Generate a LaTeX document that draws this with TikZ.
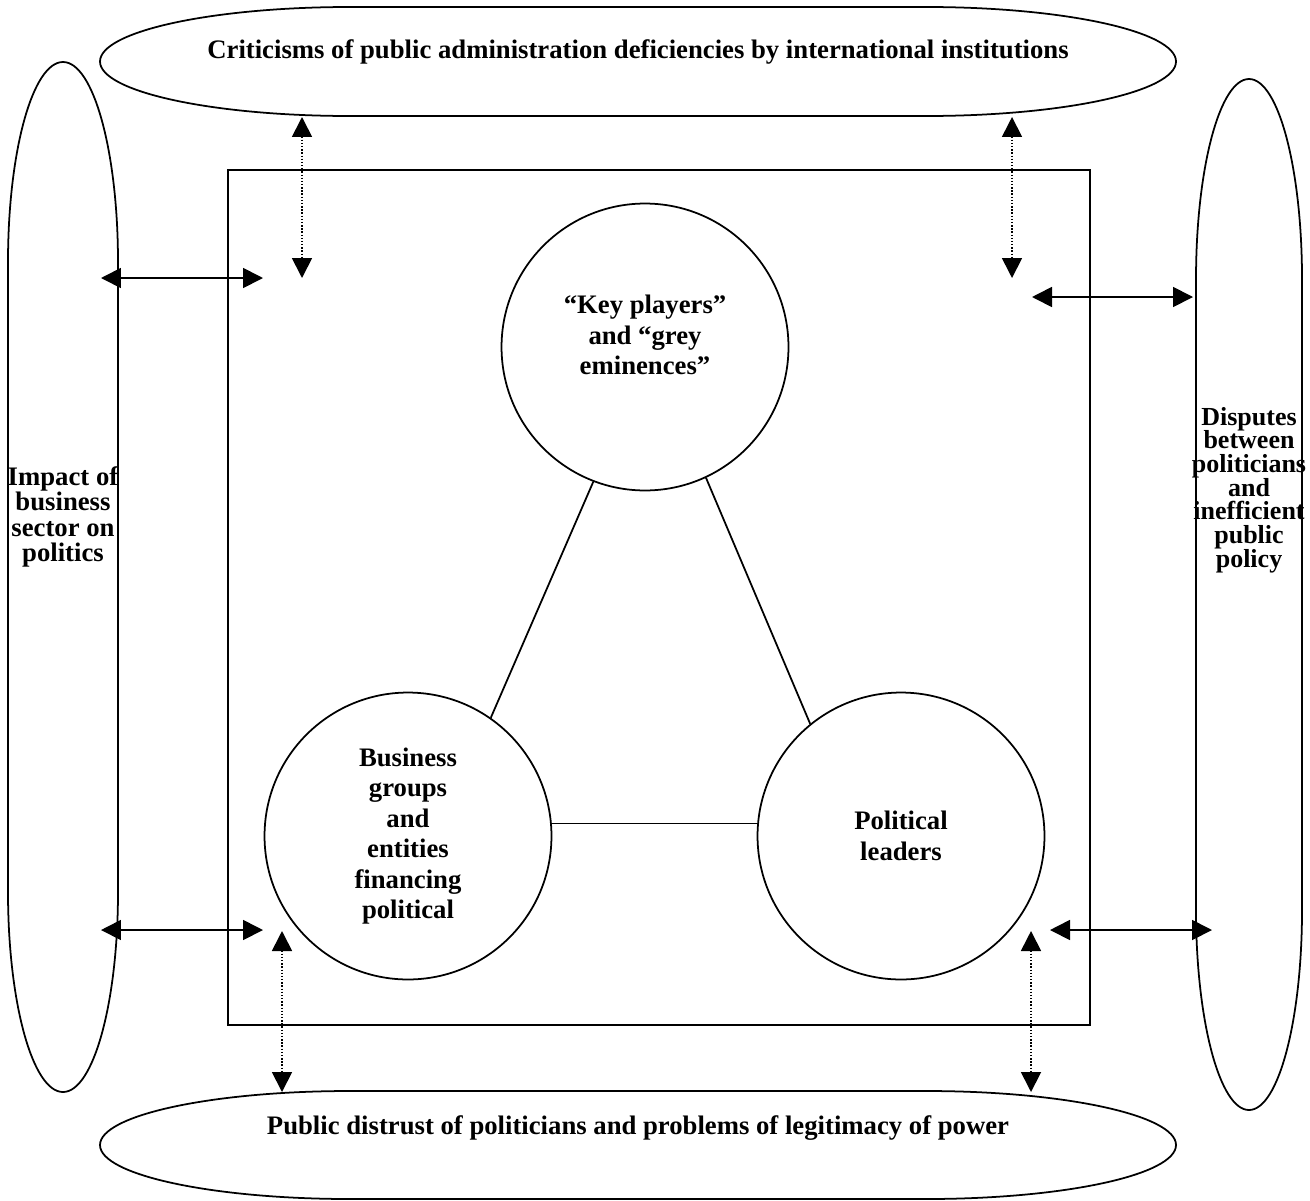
\documentclass[tikz,border=0pt]{standalone}
\usepackage{fontspec}
\setmainfont{Liberation Serif}
\usetikzlibrary{arrows.meta, positioning, shapes}

% outline of a box with elliptic ends: x1, y1, x2, y2, x radius, y radius
\newcommand{\drawoval}[6]{%
	\draw (#1+#5, #2) -- (#3-#5, #2)
		arc[start angle=270, end angle=360, x radius=#5, y radius=#6] -- (#3, #4-#6)
		arc[start angle=0, end angle=90, x radius=#5, y radius=#6] -- (#1+#5, #4)
		arc[start angle=90, end angle=180, x radius=#5, y radius=#6] -- (#1, #2+#6)
		arc[start angle=180, end angle=270, x radius=#5, y radius=#6] -- cycle;
}

\begin{document}
\begin{tikzpicture}[x=0.02cm, y=-0.02cm, line width=1pt,
	font=\fontsize{15.2}{17.4}\selectfont\bfseries,
	>={Triangle[length=4mm, width=4mm]},
	player/.style={draw, circle, minimum size=5.74cm, inner sep=0pt, align=center},
	ovaltext/.style={align=center, inner sep=0pt},
	link/.style={<->},
	dotlink/.style={<->, line width=1pt, dash pattern=on 0.8pt off 1pt}]

\useasboundingbox (0,0) rectangle (1310,1200);

% outer ovals
\drawoval{100}{7}{1176}{116}{250}{54.5}   % top
\drawoval{100}{1091}{1176}{1199}{250}{54} % bottom
\drawoval{8}{62}{118}{1092}{55}{200}      % left
\drawoval{1196}{79}{1302}{1110}{53}{200}  % right

\node[ovaltext] (crit) at (638,52) {Criticisms of public administration deficiencies by international institutions};
\node[ovaltext] (distrust) at (638,1128) {Public distrust of politicians and problems of legitimacy of power};
\node[ovaltext, font=\fontsize{15.2}{14.4}\selectfont\bfseries] (impact) at (63,517) {Impact of\\business\\sector on\\politics};
\node[ovaltext, font=\fontsize{14.8}{13.5}\selectfont\bfseries] (disputes) at (1249,490) {Disputes\\between\\politicians\\and\\inefficient\\public\\policy};

% inner frame
\draw (228,170) rectangle (1090,1025);

\node[player] (key) at (645,347) {``Key players''\\and ``grey\\eminences''\\[-3.8pt]\mbox{}};
\node[player] (biz) at (408,836) {Business\\groups\\and\\entities\\financing\\political};
\node[player] (pol) at (901,836) {Political\\leaders};

\draw (key.249) -- (biz.55);
\draw (key.295) -- (pol.129);
\draw (biz.5) -- (pol.175);

% loose ends of the arrows
\coordinate (impact top)  at (101,278);
\coordinate (frame tl)    at (263,278);
\coordinate (impact low)  at (101,930);
\coordinate (frame bl)    at (263,930);
\coordinate (frame tr)    at (1032,297);
\coordinate (disputes top) at (1193,297);
\coordinate (frame br)    at (1050,930);
\coordinate (disputes low) at (1212,930);

\coordinate (crit l)     at (302,117);
\coordinate (key l)      at (302,278);
\coordinate (crit r)     at (1012,117);
\coordinate (key r)      at (1012,278);
\coordinate (biz d)      at (282,931);
\coordinate (distrust l) at (282,1092);
\coordinate (pol d)      at (1031,931);
\coordinate (distrust r) at (1031,1092);

\foreach \a/\b in {impact top/frame tl, impact low/frame bl, frame tr/disputes top, frame br/disputes low}
	\draw[link] (\a) -- (\b);

\foreach \a/\b in {crit l/key l, crit r/key r, biz d/distrust l, pol d/distrust r}
	\draw[dotlink] (\a) -- (\b);

\end{tikzpicture}
\end{document}
